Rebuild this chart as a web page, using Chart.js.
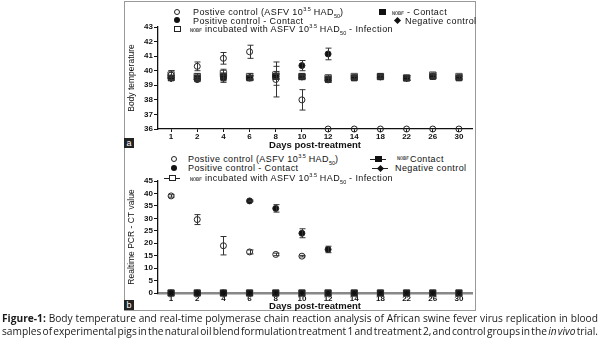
<!DOCTYPE html>
<html>
<head>
<meta charset="utf-8">
<script src="https://cdn.jsdelivr.net/npm/chart.js@4/dist/chart.umd.min.js"></script>
<style>
  body { margin: 0; background: #fff; }
  #page { position: relative; width: 600px; height: 347px; overflow: hidden;
          font-family: 'Liberation Sans', Arial, sans-serif; color: #111; }
  #frame { position: absolute; left: 124px; top: 1px; width: 352px; height: 310px;
           border: 1px solid #999; box-sizing: border-box; }
  canvas { position: absolute; }
  .lg { position: absolute; font-size: 9px; line-height: 10px; white-space: nowrap; letter-spacing: 0.4px; }
  .lg sup, .lg sub { font-size: 5.5px; line-height: 0; letter-spacing: 0; }
  .nobf { font-family: 'DejaVu Sans Mono', monospace; font-size: 5px; letter-spacing: 0; }
  .mk { position: absolute; box-sizing: border-box; }
  .oc { width: 6px; height: 6px; border: 1px solid #222; border-radius: 50%; }
  .fc { width: 6px; height: 6px; background: #111; border-radius: 50%; }
  .fs { width: 7px; height: 6px; background: #111; }
  .os { width: 7px; height: 6px; border: 1px solid #222; background: #fff; }
  .fd { width: 5px; height: 5px; background: #111; transform: rotate(45deg); }
  .ln { height: 1px; background: #222; }
  .tag { position: absolute; width: 10px; height: 10px; background: #222; color: #fff;
         font-size: 9px; line-height: 10px; text-align: center; }
  .cap { position: absolute; left: 2px; width: 596px; font-family: 'Open Sans', sans-serif;
         font-size: 10.2px; line-height: 13px; white-space: nowrap; text-align: justify;
         text-align-last: justify; color: #1a1a1a; }
</style>
</head>
<body>
<div id="page">
  <div id="frame"></div>
  <canvas id="tempChart" width="352" height="131" style="left:124px;top:20px"></canvas>
  <canvas id="pcrChart" width="352" height="137" style="left:124px;top:175px"></canvas>

  <!-- legend a -->
  <div class="mk oc" style="left:174px;top:9px"></div>
  <div class="lg" style="left:193px;top:7px">Postive control (ASFV 10<sup>3.5</sup> HAD<sub>50</sub>)</div>
  <div class="mk fs" style="left:379px;top:9px"></div>
  <div class="lg" style="left:392px;top:7px"><span class="nobf">NOBF</span> - Contact</div>
  <div class="mk fc" style="left:174px;top:17px"></div>
  <div class="lg" style="left:193px;top:16px">Positive control - Contact</div>
  <div class="mk fd" style="left:395px;top:18px"></div>
  <div class="lg" style="left:405px;top:16px">Negative control</div>
  <div class="mk os" style="left:174px;top:26px"></div>
  <div class="lg" style="left:190px;top:24px"><span class="nobf">NOBF</span> incubated with ASFV 10<sup>3.5</sup> HAD<sub>50</sub> - Infection</div>
  <div class="tag" style="left:124px;top:138px">a</div>

  <!-- legend b -->
  <div class="mk oc" style="left:171px;top:156px"></div>
  <div class="lg" style="left:188px;top:154px">Postive control (ASFV 10<sup>3.5</sup> HAD<sub>50</sub>)</div>
  <div class="mk ln" style="left:370px;top:159px;width:16px"></div>
  <div class="mk fs" style="left:375px;top:156px"></div>
  <div class="lg" style="left:397px;top:152px"><span class="nobf">NOBF</span></div>
  <div class="lg" style="left:410px;top:154px">Contact</div>
  <div class="mk fc" style="left:171px;top:165px"></div>
  <div class="lg" style="left:188px;top:163px">Positive control - Contact</div>
  <div class="mk ln" style="left:372px;top:168px;width:16px"></div>
  <div class="mk fd" style="left:378px;top:166px"></div>
  <div class="lg" style="left:395px;top:163px">Negative control</div>
  <div class="mk ln" style="left:164px;top:178px;width:16px"></div>
  <div class="mk os" style="left:169px;top:175px"></div>
  <div class="lg" style="left:190px;top:173px"><span class="nobf">NOBF</span> incubated with ASFV 10<sup>3.5</sup> HAD<sub>50</sub> - Infection</div>
  <div class="tag" style="left:124px;top:300px">b</div>

  <div class="cap" style="top:312px"><b>Figure-1:</b> Body temperature and real-time polymerase chain reaction analysis of African swine fever virus replication in blood</div>
  <div class="cap" style="top:325px;word-spacing:-2.6px">samples of experimental pigs in the natural oil blend formulation treatment 1 and treatment 2, and control groups in the <i>in vivo</i> trial.</div>
</div>

<script>
const days = ['1', '2', '4', '6', '8', '10', '12', '14', '18', '22', '26', '30'];

// a - body temperature
const tempPosCtrl = [39.7, 40.3, 40.85, 41.3, 39.4, 38.0, 36, 36, 36, 36, 36, 36];
const tempPosCtrlErr = [0.3, 0.3, 0.4, 0.45, 1.2, 0.7, 0, 0, 0, 0, 0, 0];
const tempPosContact = [39.5, 39.4, 39.5, 39.5, 39.65, 40.35, 41.15, null, null, null, null, null];
const tempPosContactErr = [0.15, 0.15, 0.3, 0.15, 0.65, 0.35, 0.4, 0, 0, 0, 0, 0];
const tempNobfContact = [39.5, 39.5, 39.6, 39.5, 39.6, 39.6, 39.4, 39.5, 39.6, 39.5, 39.6, 39.5];
const tempNobfContactErr = [0.15, 0.2, 0.25, 0.15, 0.2, 0.1, 0.2, 0.15, 0.1, 0.15, 0.15, 0.15];
const tempNegCtrl = [39.45, 39.4, 39.5, 39.55, 39.6, 39.55, 39.35, 39.5, 39.55, 39.45, 39.6, 39.5];
const tempNegCtrlErr = [0.1, 0.1, 0.2, 0.1, 0.15, 0.1, 0.15, 0.1, 0.1, 0.1, 0.1, 0.1];
const tempNobfInf = [39.7, 39.6, 39.8, 39.6, 39.7, 39.6, 39.5, 39.6, 39.6, 39.5, 39.7, 39.6];
const tempNobfInfErr = [0.3, 0.2, 0.3, 0.2, 0.25, 0.15, 0.2, 0.15, 0.15, 0.15, 0.15, 0.15];

// b - realtime PCR CT value
const ctPosCtrl = [39, 29.5, 19, 16.5, 15.5, 14.8, null, null, null, null, null, null];
const ctPosCtrlErr = [0.5, 2, 3.7, 0.8, 0.5, 0.3, 0, 0, 0, 0, 0, 0];
const ctPosContact = [0, 0, 0, 37, 34, 24, 17.5, null, null, null, null, null];
const ctPosContactErr = [0, 0, 0, 0.3, 1.5, 1.8, 1.3, 0, 0, 0, 0, 0];
const ctNobfContact = [0, 0, 0, 0, 0, 0, 0, 0, 0, 0, 0, 0];
const ctNegCtrl = [0, 0, 0, 0, 0, 0, 0, 0, 0, 0, 0, 0];
const ctNobfInf = [0, 0, 0, 0, 0, 0, 0, 0, 0, 0, 0, 0];

const tickFont = { family: "'Liberation Sans', Arial, sans-serif", size: 8, weight: 'bold' };
const narrowFont = { family: "'Liberation Sans Narrow', 'Liberation Sans', sans-serif", size: 8.5 };
const titleFont = { family: "'Liberation Sans', Arial, sans-serif", size: 9.5, weight: 'bold' };

// vertical error bars with caps, from dataset.errors
const errorBars = {
  id: 'errorBars',
  afterDatasetsDraw(chart) {
    const ctx = chart.ctx;
    const y = chart.scales.y;
    chart.data.datasets.forEach((ds, i) => {
      if (!ds.errors) return;
      chart.getDatasetMeta(i).data.forEach((pt, j) => {
        const v = ds.data[j], e = ds.errors[j];
        if (v == null || !e) return;
        const top = y.getPixelForValue(v + e);
        const bot = y.getPixelForValue(v - e);
        const x = Math.round(pt.x) + 0.5;
        ctx.save();
        ctx.strokeStyle = '#333';
        ctx.lineWidth = 1;
        ctx.beginPath();
        ctx.moveTo(x, top); ctx.lineTo(x, bot);
        ctx.moveTo(x - 3, top); ctx.lineTo(x + 3, top);
        ctx.moveTo(x - 3, bot); ctx.lineTo(x + 3, bot);
        ctx.stroke();
        ctx.restore();
      });
    });
  }
};

function series(data, errors, style) {
  return Object.assign({
    data: data, errors: errors, showLine: false, clip: false,
    borderColor: '#222', borderWidth: 1, pointBorderColor: '#222'
  }, style);
}
const openCircle = { pointStyle: 'circle', pointRadius: 3, pointBackgroundColor: 'rgba(0,0,0,0)' };
const fillCircle = { pointStyle: 'circle', pointRadius: 3, pointBackgroundColor: '#111' };
const fillSquare = { pointStyle: 'rect', pointRadius: 4, pointBackgroundColor: '#111' };
const openSquare = { pointStyle: 'rect', pointRadius: 4.5, pointBackgroundColor: 'rgba(0,0,0,0)', pointBorderColor: '#555' };
const fillDiamond = { pointStyle: 'rectRot', pointRadius: 3, pointBackgroundColor: '#111' };

function makeOptions(yMin, yMax, yStep, yTitle, xAxisH, padTop, xTick, xBorder) {
  return {
    responsive: false,
    devicePixelRatio: 1,
    animation: false,
    layout: { autoPadding: false, padding: { top: padTop, right: 4, left: 0, bottom: 0 } },
    plugins: { legend: { display: false }, tooltip: { enabled: false } },
    scales: {
      x: {
        offset: true,
        grid: { offset: false, drawOnChartArea: false, drawTicks: true, tickLength: xTick, color: '#111' },
        border: { display: true, color: xBorder.color, width: xBorder.width },
        ticks: { font: tickFont, color: '#111', padding: 0, maxRotation: 0, autoSkip: false },
        title: { display: true, text: 'Days post-treatment', font: titleFont, color: '#111', padding: 0 },
        afterFit(s) { s.height = xAxisH; }
      },
      y: {
        min: yMin, max: yMax,
        grid: { drawOnChartArea: false, drawTicks: true, tickLength: 4, color: '#111' },
        border: { display: true, color: '#111', width: 1.3 },
        ticks: { stepSize: yStep, autoSkip: false, font: tickFont, color: '#111', padding: 1 },
        title: { display: true, text: yTitle, font: narrowFont, color: '#111', padding: { top: 3, bottom: 0 } },
        afterFit(s) { s.width = 34; }
      }
    }
  };
}

new Chart(document.getElementById('tempChart'), {
  type: 'line',
  data: {
    labels: days,
    datasets: [
      series(tempPosCtrl, tempPosCtrlErr, openCircle),
      series(tempPosContact, tempPosContactErr, fillCircle),
      series(tempNegCtrl, tempNegCtrlErr, fillDiamond),
      series(tempNobfContact, tempNobfContactErr, fillSquare),
      series(tempNobfInf, tempNobfInfErr, openSquare)
    ]
  },
  options: makeOptions(36, 43, 1, 'Body temperature', 22, 7, 3, { color: '#111', width: 1.3 }),
  plugins: [errorBars]
});

new Chart(document.getElementById('pcrChart'), {
  type: 'line',
  data: {
    labels: days,
    datasets: [
      series(ctPosCtrl, ctPosCtrlErr, openCircle),
      series(ctPosContact, ctPosContactErr, fillCircle),
      series(ctNegCtrl, null, fillDiamond),
      series(ctNobfContact, null, fillSquare),
      series(ctNobfInf, null, openSquare)
    ]
  },
  options: makeOptions(0, 45, 5, 'Realtime PCR - CT value', 19, 6, 1, { color: '#888', width: 2.5 }),
  plugins: [errorBars]
});
</script>
</body>
</html>
